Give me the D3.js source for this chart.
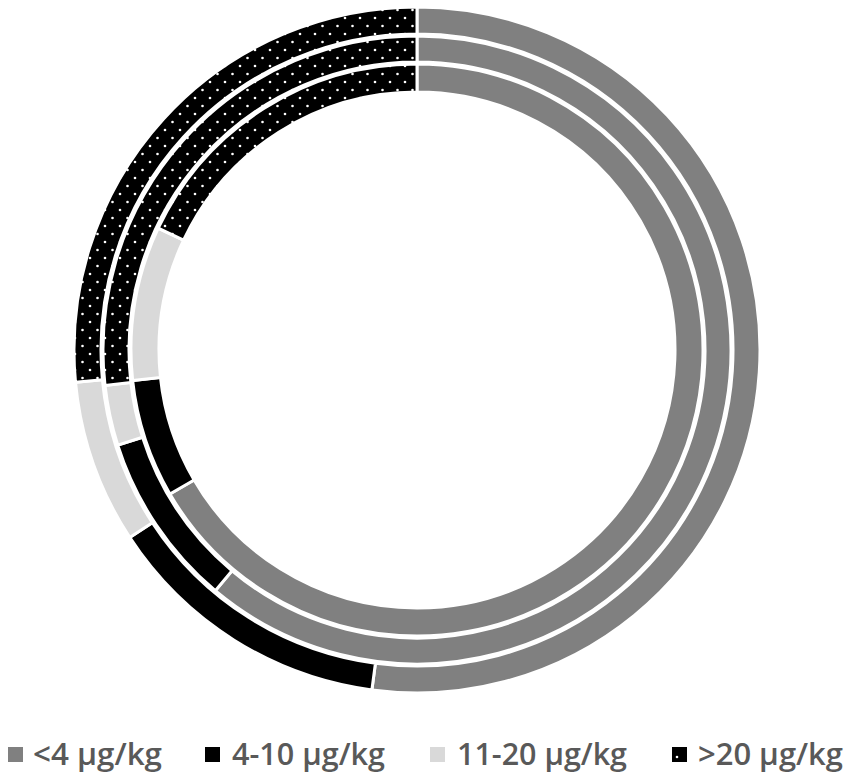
<!DOCTYPE html>
<html>
<head>
<meta charset="utf-8">
<style>
body { margin: 0; background: #fff; }
text.legend {
  fill: #595959;
  font-family: "Liberation Sans Narrow", "Arial Narrow", "Open Sans", sans-serif;
  font-size: 31px;
  font-weight: 600;
}
</style>
<title></title>
</head>
<body>
<script src="https://cdn.jsdelivr.net/npm/d3@7"></script>
<script>

// categories (clockwise from 12 o'clock)
var categories = ["<4 µg/kg", "4-10 µg/kg", "11-20 µg/kg", ">20 µg/kg"];

// shares per ring, %
var outerRing  = [52.1, 13.7, 7.7, 26.5];
var middleRing = [61.1, 9.0, 3.1, 26.8];
var innerRing  = [66.6, 6.7, 8.7, 18.0];

var rings = [
  {values: outerRing,  r0: 316, r1: 343},
  {values: middleRing, r0: 288, r1: 314},
  {values: innerRing,  r0: 258, r1: 286}
];

var width = 851, height = 779;
var cx = 417, cy = 350;

var fills = ["#808080", "#000000", "#d9d9d9", "url(#dots)"];

var svg = d3.select("body").append("svg")
    .attr("width", width)
    .attr("height", height);

// dotted pattern for >20
var defs = svg.append("defs");
var pat = defs.append("pattern")
    .attr("id", "dots")
    .attr("patternUnits", "userSpaceOnUse")
    .attr("width", 15)
    .attr("height", 16);
pat.append("rect").attr("width", 15).attr("height", 16).attr("fill", "#000");
pat.append("circle").attr("cx", 3).attr("cy", 4).attr("r", 1.3).attr("fill", "#fff");
pat.append("circle").attr("cx", 10.5).attr("cy", 12).attr("r", 1.3).attr("fill", "#fff");

var pie = d3.pie().sort(null).value(function(d) { return d; });

var g = svg.append("g").attr("transform", "translate(" + cx + "," + cy + ")");

rings.forEach(function(ring) {
  var arc = d3.arc().innerRadius(ring.r0).outerRadius(ring.r1);
  g.append("g")
    .selectAll("path")
    .data(pie(ring.values))
    .enter()
    .append("path")
    .attr("d", arc)
    .attr("fill", function(d, i) { return fills[i]; })
    .attr("stroke", "#fff")
    .attr("stroke-width", 3)
    .attr("stroke-linejoin", "miter");
});

// legend
var legendX = [8, 205, 430, 672];
var textX = [33, 232, 457, 698];
var textW = [129, 153, 170, 145];

var leg = svg.append("g");
categories.forEach(function(c, i) {
  if (i == 3) {
    leg.append("rect")
      .attr("x", legendX[i]).attr("y", 747)
      .attr("width", 15).attr("height", 15)
      .attr("fill", "#000");
    leg.append("circle")
      .attr("cx", legendX[i] + 5).attr("cy", 757).attr("r", 1.3)
      .attr("fill", "#fff");
  } else {
    leg.append("rect")
      .attr("x", legendX[i]).attr("y", 747)
      .attr("width", 15).attr("height", 15)
      .attr("fill", fills[i]);
  }
  leg.append("text")
    .attr("class", "legend")
    .attr("x", textX[i])
    .attr("y", 765)
    .attr("textLength", textW[i])
    .attr("lengthAdjust", "spacingAndGlyphs")
    .text(c);
});

</script>
</body>
</html>
